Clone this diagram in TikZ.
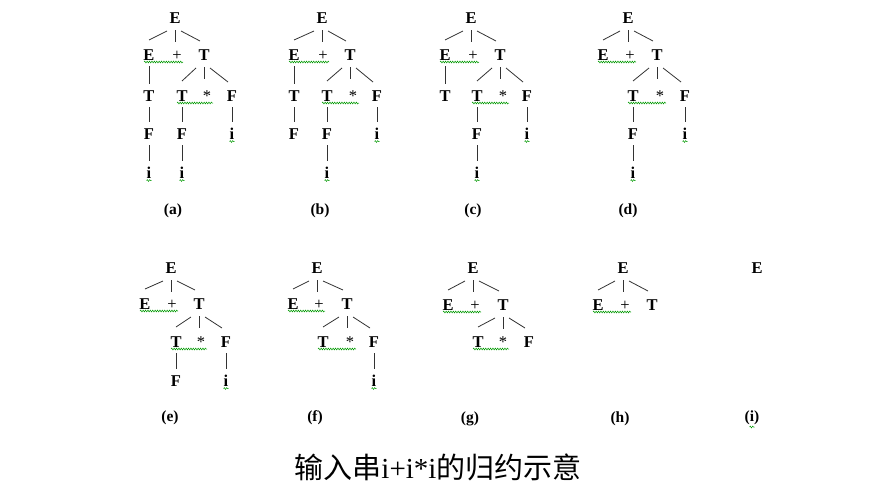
\documentclass[tikz,border=0pt]{standalone}
\usepackage{fontspec}
\setmainfont{Liberation Serif}
\newfontfamily\cjk{Noto Sans CJK SC}
\usetikzlibrary{decorations.pathmorphing}
\newcommand\Lft[2]{\draw[edge] ([shift={(-8,13)}]#1.center) -- ([shift={(0,-15)}]#2.center);}
\newcommand\Rgt[2]{\draw[edge] ([shift={(6,13)}]#1.center) -- ([shift={(-4,-14)}]#2.center);}
\newcommand\Mid[1]{\draw[edge] ([shift={(0,12)}]#1.center) -- ([shift={(0,24)}]#1.center);}
\newcommand\Dwn[2]{\draw[edge] ([shift={(0,11)}]#1.center) -- ([shift={(0,-12)}]#2.center);}
\newcommand\Wv[2]{\draw[wav] ([shift={(-5,7)}]#1.center) -- ([shift={(6,7)}]#2.center);}
\newcommand\Wi[1]{\draw[wav] ([shift={(-2.5,7.5)}]#1.center) -- ([shift={(2.5,7.5)}]#1.center);}
\begin{document}
\begin{tikzpicture}[x=1pt,y=-1pt,
  sym/.style={font=\fontsize{16.5}{16.5}\selectfont\bfseries, inner sep=0pt, text height=11pt, text depth=0pt},
  opr/.style={font=\fontsize{16.5}{16.5}\selectfont, inner sep=0pt, text height=11pt, text depth=0pt},
  lab/.style={font=\fontsize{15.5}{15.5}\selectfont\bfseries, inner sep=0pt},
  edge/.style={draw=black!80, line width=0.8pt},
  wav/.style={draw=green!60!black, line width=0.5pt, decorate, decoration={snake, amplitude=0.9pt, segment length=2.4pt}}]
\useasboundingbox (0,0) rectangle (890,490);
% ---------- (a)
\node[sym] (a1) at (175,18) {E};
\node[sym] (a2) at (149,55) {E};
\node[opr] (a3) at (177,55) {+};
\node[sym] (a4) at (204,55) {T};
\node[sym] (a5) at (149,96) {T};
\node[sym] (a6) at (182,96) {T};
\node[opr] (a7) at (207,96) {*};
\node[sym] (a8) at (232,96) {F};
\node[sym] (a9) at (149,134) {F};
\node[sym] (a10) at (182,134) {F};
\node[sym] (a11) at (232,134) {i};
\node[sym] (a12) at (149,173) {i};
\node[sym] (a13) at (182,173) {i};
\node[lab] (la) at (173,211) {(a)};
\Lft{a1}{a2}\Mid{a1}\Rgt{a1}{a4}
\Lft{a4}{a6}\Mid{a4}\Rgt{a4}{a8}
\Dwn{a2}{a5}\Dwn{a5}{a9}\Dwn{a9}{a12}
\Dwn{a6}{a10}\Dwn{a10}{a13}\Dwn{a8}{a11}
\Wv{a2}{a3}\Wv{a6}{a7}\Wi{a11}\Wi{a12}\Wi{a13}
% ---------- (b)
\node[sym] (b1) at (322,18) {E};
\node[sym] (b2) at (294,55) {E};
\node[opr] (b3) at (323,55) {+};
\node[sym] (b4) at (350,55) {T};
\node[sym] (b5) at (294,96) {T};
\node[sym] (b6) at (327,96) {T};
\node[opr] (b7) at (353,96) {*};
\node[sym] (b8) at (377,96) {F};
\node[sym] (b9) at (294,134) {F};
\node[sym] (b10) at (327,134) {F};
\node[sym] (b11) at (377,134) {i};
\node[sym] (b13) at (327,173) {i};
\node[lab] (lb) at (320,211) {(b)};
\Lft{b1}{b2}\Mid{b1}\Rgt{b1}{b4}
\Lft{b4}{b6}\Mid{b4}\Rgt{b4}{b8}
\Dwn{b2}{b5}\Dwn{b5}{b9}
\Dwn{b6}{b10}\Dwn{b10}{b13}\Dwn{b8}{b11}
\Wv{b2}{b3}\Wv{b6}{b7}\Wi{b11}\Wi{b13}
% ---------- (c)
\node[sym] (c1) at (471,18) {E};
\node[sym] (c2) at (445,55) {E};
\node[opr] (c3) at (473,55) {+};
\node[sym] (c4) at (500,55) {T};
\node[sym] (c5) at (445,96) {T};
\node[sym] (c6) at (477,96) {T};
\node[opr] (c7) at (503,96) {*};
\node[sym] (c8) at (527,96) {F};
\node[sym] (c10) at (477,134) {F};
\node[sym] (c11) at (527,134) {i};
\node[sym] (c13) at (477,173) {i};
\node[lab] (lc) at (473,211) {(c)};
\Lft{c1}{c2}\Mid{c1}\Rgt{c1}{c4}
\Lft{c4}{c6}\Mid{c4}\Rgt{c4}{c8}
\Dwn{c2}{c5}
\Dwn{c6}{c10}\Dwn{c10}{c13}\Dwn{c8}{c11}
\Wv{c2}{c3}\Wv{c6}{c7}\Wi{c11}\Wi{c13}
% ---------- (d)
\node[sym] (d1) at (628,18) {E};
\node[sym] (d2) at (603,55) {E};
\node[opr] (d3) at (630,55) {+};
\node[sym] (d4) at (657,55) {T};
\node[sym] (d6) at (633,96) {T};
\node[opr] (d7) at (660,96) {*};
\node[sym] (d8) at (685,96) {F};
\node[sym] (d10) at (633,134) {F};
\node[sym] (d11) at (685,134) {i};
\node[sym] (d13) at (633,173) {i};
\node[lab] (ld) at (628,211) {(d)};
\Lft{d1}{d2}\Mid{d1}\Rgt{d1}{d4}
\Lft{d4}{d6}\Mid{d4}\Rgt{d4}{d8}
\Dwn{d6}{d10}\Dwn{d10}{d13}\Dwn{d8}{d11}
\Wv{d2}{d3}\Wv{d6}{d7}\Wi{d11}\Wi{d13}
% ---------- (e)
\node[sym] (e1) at (171,268) {E};
\node[sym] (e2) at (145,304) {E};
\node[opr] (e3) at (172,304) {+};
\node[sym] (e4) at (199,304) {T};
\node[sym] (e6) at (176,342) {T};
\node[opr] (e7) at (201,342) {*};
\node[sym] (e8) at (226,342) {F};
\node[sym] (e10) at (176,381) {F};
\node[sym] (e11) at (226,381) {i};
\node[lab] (le) at (170,418) {(e)};
\Lft{e1}{e2}\Mid{e1}\Rgt{e1}{e4}
\Lft{e4}{e6}\Mid{e4}\Rgt{e4}{e8}
\Dwn{e6}{e10}\Dwn{e8}{e11}
\Wv{e2}{e3}\Wv{e6}{e7}\Wi{e11}
% ---------- (f)
\node[sym] (f1) at (317,268) {E};
\node[sym] (f2) at (293,304) {E};
\node[opr] (f3) at (319,304) {+};
\node[sym] (f4) at (347,304) {T};
\node[sym] (f6) at (323,342) {T};
\node[opr] (f7) at (350,342) {*};
\node[sym] (f8) at (374,342) {F};
\node[sym] (f11) at (374,381) {i};
\node[lab] (lf) at (315,418) {(f)};
\Lft{f1}{f2}\Mid{f1}\Rgt{f1}{f4}
\Lft{f4}{f6}\Mid{f4}\Rgt{f4}{f8}
\Dwn{f8}{f11}
\Wv{f2}{f3}\Wv{f6}{f7}\Wi{f11}
% ---------- (g)
\node[sym] (g1) at (473,268) {E};
\node[sym] (g2) at (448,305) {E};
\node[opr] (g3) at (475,305) {+};
\node[sym] (g4) at (503,305) {T};
\node[sym] (g6) at (478,342) {T};
\node[opr] (g7) at (503,342) {*};
\node[sym] (g8) at (529,342) {F};
\node[lab] (lg) at (470,419) {(g)};
\Lft{g1}{g2}\Mid{g1}\Rgt{g1}{g4}
\Lft{g4}{g6}\Mid{g4}\Rgt{g4}{g8}
\Wv{g2}{g3}\Wv{g6}{g7}
% ---------- (h)
\node[sym] (h1) at (623,268) {E};
\node[sym] (h2) at (598,305) {E};
\node[opr] (h3) at (625,305) {+};
\node[sym] (h4) at (652,305) {T};
\node[lab] (lh) at (620,419) {(h)};
\Lft{h1}{h2}\Mid{h1}\Rgt{h1}{h4}
\Wv{h2}{h3}
% ---------- (i)
\node[sym] (i1) at (757,268) {E};
\node[lab] (li) at (752,418) {(i)};
\draw[wav] ([shift={(-2.5,9)}]li.center) -- ([shift={(2.5,9)}]li.center);
% ---------- title
\node[inner sep=0pt, font=\fontsize{29}{29}\selectfont] (title) at (438,467)
  {{\cjk 输入串}i+i*i{\cjk 的归约示意}};
\end{tikzpicture}
\end{document}
